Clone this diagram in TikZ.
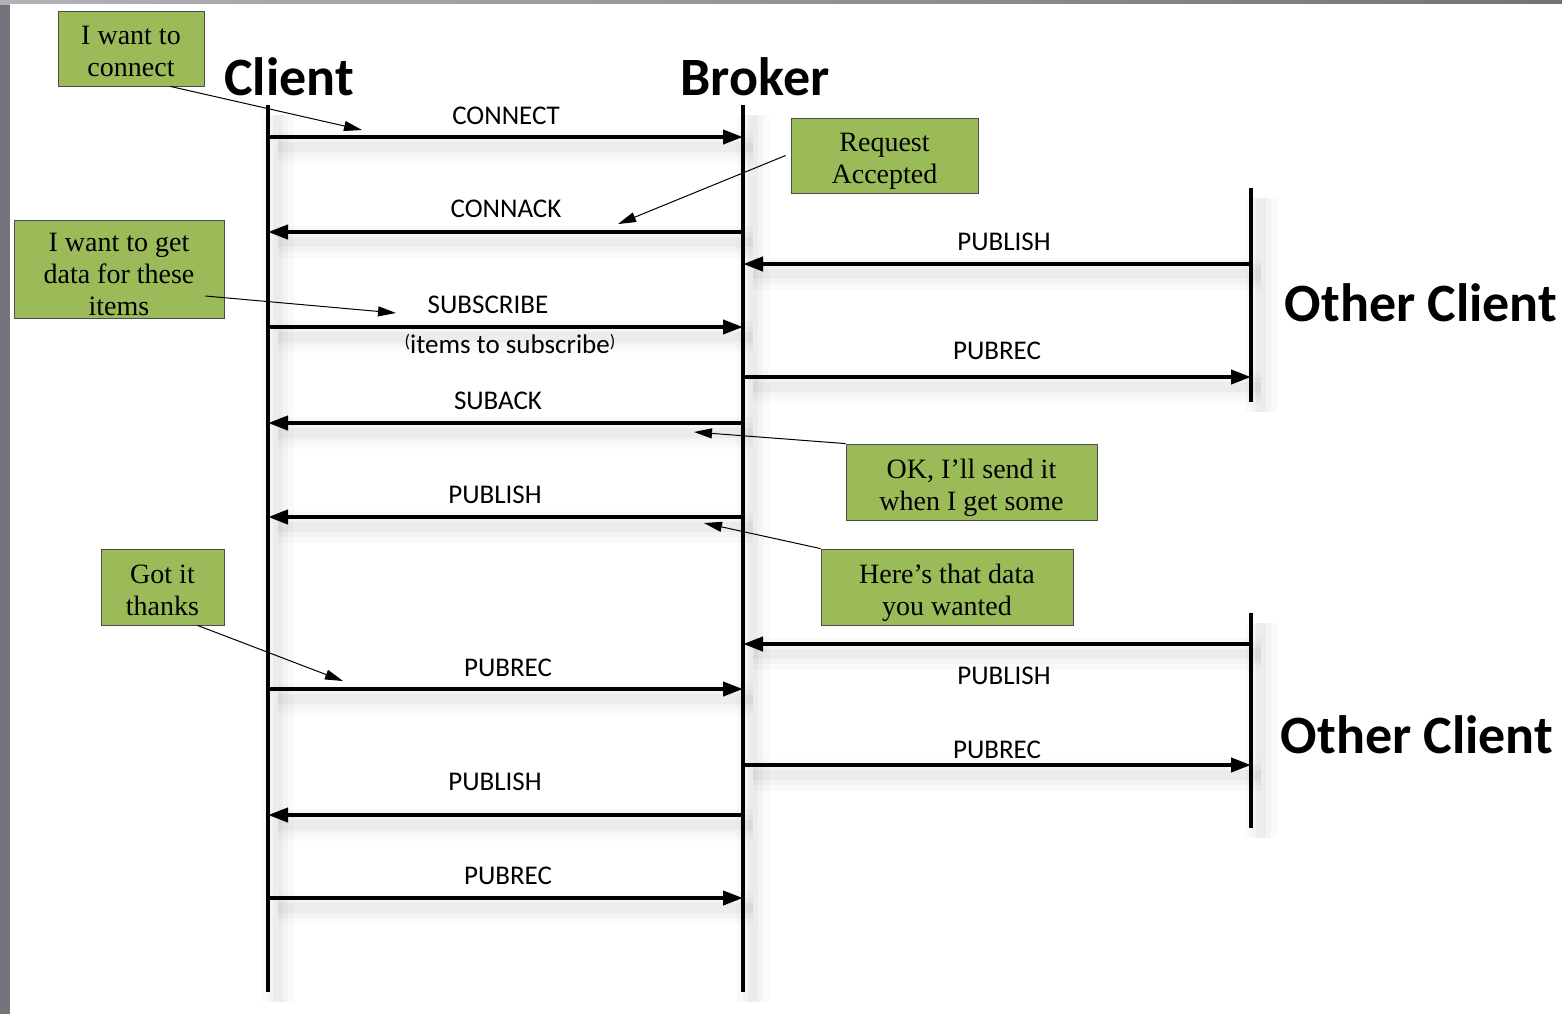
\documentclass[tikz,border=0pt]{standalone}
\usepackage{fontspec}
\setmainfont{Liberation Serif}
\newfontfamily\calibri{Carlito}
\usetikzlibrary{positioning,calc,arrows.meta}

\definecolor{notegreen}{RGB}{155,187,89}
\definecolor{framegray}{RGB}{118,114,123}

% texte des bulles, un peu plus bas que le centre
\newcommand{\notetext}[2][-3pt]{%
  \raisebox{#1}[\height][\depth]{\begin{tabular}{@{}c@{}}#2\end{tabular}}}

\tikzset{
  lifeline/.style={line width=2pt,
    preaction={draw=black, opacity=.02, line width=16pt, arrows=-,
      transform canvas={shift={(5pt,-5pt)}}},
    preaction={draw=black, opacity=.025, line width=10pt, arrows=-,
      transform canvas={shift={(5pt,-5pt)}}},
    preaction={draw=black, opacity=.03, line width=5pt, arrows=-,
      transform canvas={shift={(5pt,-5pt)}}}},
  msg/.style={lifeline, -{Triangle[length=10pt,width=7pt]}},
  msglabel/.style={font=\calibri\fontsize{13.5}{16}\selectfont, inner sep=0pt},
  actor/.style={font=\calibri\bfseries\fontsize{27}{30}\selectfont, inner sep=0pt},
  note/.style={draw=black!70, line width=.4pt, fill=notegreen,
    inner sep=0pt, font=\fontsize{14}{16}\selectfont},
  pointer/.style={line width=.5pt, -{Triangle[length=9pt,width=5pt]}}
}

\begin{document}
\begin{tikzpicture}[x=0.5pt, y=-0.5pt]

% Cadre
\fill[framegray] (0,0) rectangle (1562,1014);
\shade[left color=framegray!55, right color=framegray] (0,0) rectangle (1562,4);
\fill[white] (10,4) rectangle (1562,1014);
\useasboundingbox (0,0) rectangle (1562,1014);

% Lignes de vie
\coordinate (cTop) at (268,105);
\coordinate (cBot) at (268,992);
\coordinate (bTop) at (743,105);
\coordinate (bBot) at (743,992);
\coordinate (o1Top) at (1251,188);
\coordinate (o1Bot) at (1251,402);
\coordinate (o2Top) at (1251,613);
\coordinate (o2Bot) at (1251,828);

\draw[lifeline] (cTop) -- (cBot);
\draw[lifeline] (bTop) -- (bBot);
\draw[lifeline] (o1Top) -- (o1Bot);
\draw[lifeline] (o2Top) -- (o2Bot);

\node[actor] (client) at (289,77) {Client};
\node[actor] (broker) at (755,77) {Broker};
\node[actor] (other1) at (1421,303) {Other Client};
\node[actor] (other2) at (1417,735) {Other Client};

% Messages
\foreach \y/\from/\to/\lx/\ly/\txt [count=\i] in {
137/cTop/bTop/506/116/CONNECT,
232/bTop/cTop/506/209/CONNACK,
264/o1Top/bTop/1004/242/PUBLISH,
327/cTop/bTop/488/305/SUBSCRIBE,
377/bTop/o1Top/997/351/PUBREC,
423/bTop/cTop/498/401/SUBACK,
517/bTop/cTop/495/495/PUBLISH,
644/o2Top/bTop/1004/676/PUBLISH,
689/cTop/bTop/508/668/PUBREC,
765/bTop/o2Top/997/750/PUBREC,
815/bTop/cTop/495/782/PUBLISH,
898/cTop/bTop/508/876/PUBREC
}
{
\draw[msg] (\from |- 0,\y) -- (\to |- 0,\y);
\node[msglabel] (m\i) at (\lx,\ly) {\txt};
}

\node[msglabel] (subItems) at (510,344)
  {\raisebox{3pt}{\small(}items to subscribe\raisebox{3pt}{\small)}};

% Bulles
\node[note, minimum width=73pt, minimum height=37.5pt] (wantConnect) at (131,48.5) {\notetext{I want to\\connect}};
\node[note, minimum width=93.5pt, minimum height=37.5pt] (reqAcc) at (884.5,155.5) {\notetext{Request\\Accepted}};
\node[note, minimum width=105pt, minimum height=49pt] (wantData) at (119,269) {\notetext[-4pt]{I want to get\\data for these\\items}};
\node[note, minimum width=125.5pt, minimum height=38pt] (okSend) at (971.5,482) {\notetext{OK, I’ll send it\\when I get some}};
\node[note, minimum width=126pt, minimum height=38pt] (hereData) at (947,587) {\notetext{Here’s that data\\you wanted}};
\node[note, minimum width=61.5pt, minimum height=38pt] (gotIt) at (162.5,587) {\notetext{Got it\\thanks}};

% Fleches des bulles
\coordinate (tipConnect) at (362,130);
\coordinate (tipConnack) at (618,224);
\coordinate (tipSub) at (396,313);
\coordinate (tipSuback) at (694,432);
\coordinate (tipPublish) at (704,523);
\coordinate (tipPubrec) at (343,681);

\draw[pointer] (wantConnect.-44) -- (tipConnect);
\draw[pointer] ($(reqAcc.west)+(-5,0)$) -- (tipConnack);
\draw[pointer] ($(wantData.east)+(-19,27)$) -- (tipSub);
\draw[pointer] (okSend.north west) -- (tipSuback);
\draw[pointer] (hereData.north west) -- (tipPublish);
\draw[pointer] ($(gotIt.south)+(35,0)$) -- (tipPubrec);

\end{tikzpicture}
\end{document}
